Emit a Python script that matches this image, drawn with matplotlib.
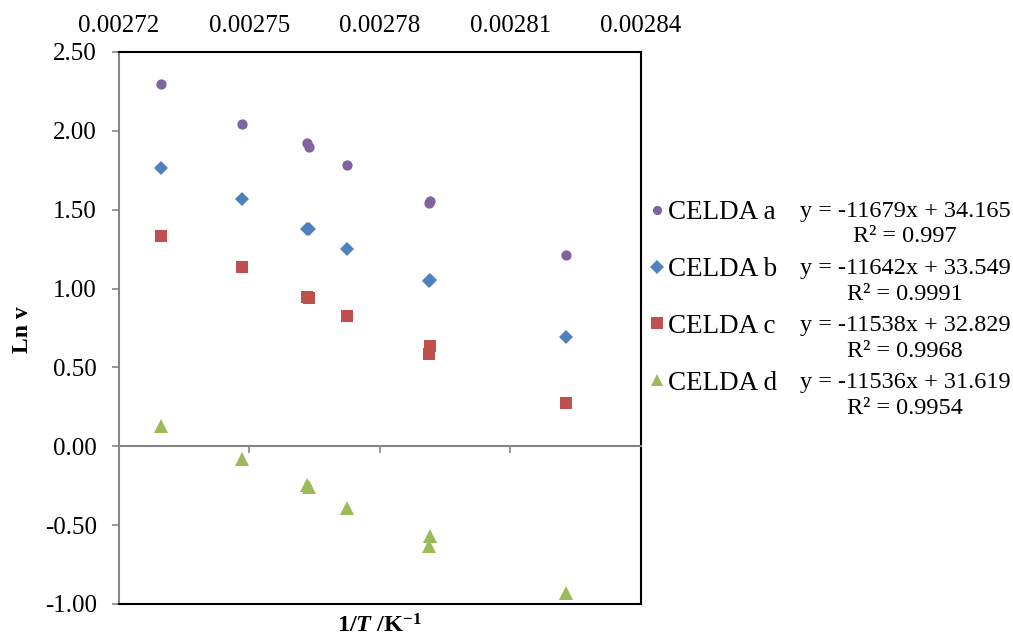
import matplotlib
matplotlib.use('Agg')
import matplotlib.pyplot as plt
from matplotlib.ticker import FormatStrFormatter

plt.rcParams['font.family'] = ['Liberation Serif', 'DejaVu Serif']
plt.rcParams['mathtext.fontset'] = 'custom'
plt.rcParams['mathtext.rm'] = 'Liberation Serif:bold'
plt.rcParams['mathtext.it'] = 'Liberation Serif:bold:italic'
plt.rcParams['mathtext.bf'] = 'Liberation Serif:bold'

# ---- data ----
inv_T = [0.0027296, 0.0027482, 0.0027633, 0.0027637, 0.0027725, 0.0027916, 0.0027912, 0.0028227]
celda_a = [2.297, 2.045, 1.921, 1.900, 1.781, 1.556, 1.545, 1.214]
celda_b = [1.764, 1.567, 1.380, 1.375, 1.252, 1.055, 1.047, 0.694]
celda_c = [1.332, 1.138, 0.945, 0.940, 0.823, 0.639, 0.584, 0.277]
celda_d = [0.131, -0.078, -0.248, -0.256, -0.393, -0.567, -0.633, -0.928]

series_names = ['CELDA a', 'CELDA b', 'CELDA c', 'CELDA d']
equations = ['y = -11679x + 34.165', 'y = -11642x + 33.549',
             'y = -11538x + 32.829', 'y = -11536x + 31.619']
r2_texts = ['R\u00b2 = 0.997', 'R\u00b2 = 0.9991', 'R\u00b2 = 0.9968', 'R\u00b2 = 0.9954']

x_ticks = [0.00272, 0.00275, 0.00278, 0.00281, 0.00284]
y_ticks = [-1.0, -0.5, 0.0, 0.5, 1.0, 1.5, 2.0, 2.5]

colors = ['#8064A2', '#4F81BD', '#C0504D', '#9BBB59']
markers = ['o', 'D', 's', '^']
msizes = [7.4, 7.6, 9.2, 9.4]

W, H = 1013, 640
fig = plt.figure(figsize=(W / 100, H / 100), dpi=100)
ax = fig.add_axes([119 / W, 1 - 604 / H, (641 - 119) / W, (604 - 52) / H])

handles = []
for ys, name, c, m, ms in zip([celda_a, celda_b, celda_c, celda_d], series_names,
                              colors, markers, msizes):
    h, = ax.plot(inv_T, ys, linestyle='none', marker=m, color=c,
                 markersize=ms, markeredgewidth=0, label=name, clip_on=False)
    handles.append(h)

ax.set_xlim(0.00272, 0.00284)
ax.set_ylim(-1.0, 2.5)
ax.set_xticks(x_ticks)
ax.set_yticks(y_ticks)
ax.xaxis.set_major_formatter(FormatStrFormatter('%.5f'))
ax.yaxis.set_major_formatter(FormatStrFormatter('%.2f'))

gray = '#868686'
ax.spines['bottom'].set_position(('data', 0))
ax.spines['bottom'].set_color(gray)
ax.spines['bottom'].set_linewidth(1.5)
ax.spines['left'].set_color(gray)
ax.spines['left'].set_linewidth(1.5)
for s in ['top', 'right']:
    ax.spines[s].set_color('black')
    ax.spines[s].set_linewidth(1.5)
ax.plot([0, 1], [0, 0], transform=ax.transAxes, color='black', lw=1.5,
        clip_on=False, zorder=5)

ax.tick_params(axis='x', which='major', bottom=True, top=False,
               labelbottom=False, labeltop=True, direction='out',
               length=5, width=1.2, color=gray, labelsize=18, pad=5.5)
ax.tick_params(axis='y', which='major', left=True, right=False,
               direction='out', length=5, width=1.2, color=gray,
               labelsize=18, pad=11)

# axis titles
fig.text(380 / W, 1 - 614 / H, r'$\mathrm{1/}\mathit{T}\mathrm{\ /K^{-1}}$',
         ha='center', va='top', fontsize=17.5)
fig.text(22 / W, 1 - 330 / H, 'Ln v', rotation=90, ha='center', va='center',
         fontsize=17, fontweight='bold')

# legend
leg = ax.legend(handles, series_names, loc='center left',
                bbox_to_anchor=(650 / W, 1 - 298 / H), bbox_transform=fig.transFigure,
                frameon=False, fontsize=19.5, markerscale=0.9,
                handlelength=0.5, handletextpad=0.15, labelspacing=1.18,
                borderpad=0, borderaxespad=0)

# trendline equations
for i, (eq, r2) in enumerate(zip(equations, r2_texts)):
    b1 = 217 + 57 * i
    b2 = 242.5 + 57.3 * i
    fig.text(905 / W, 1 - b1 / H, eq, ha='center', va='baseline', fontsize=17.5)
    fig.text(905 / W, 1 - b2 / H, r2, ha='center', va='baseline', fontsize=17.5)

fig.savefig('out.png', dpi=100)
